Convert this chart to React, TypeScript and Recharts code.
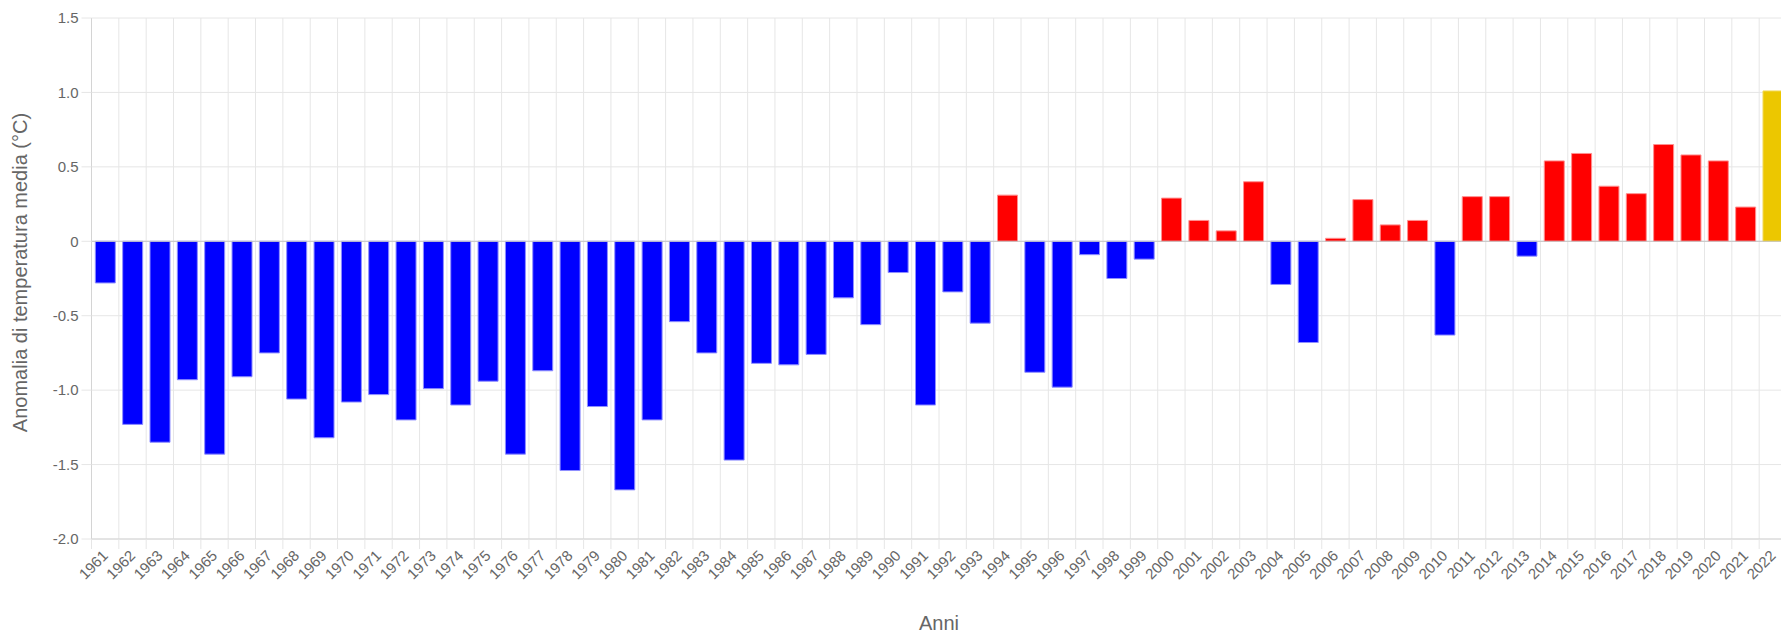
import React from 'react';
import {
  BarChart,
  Bar,
  Cell,
  XAxis,
  YAxis,
  CartesianGrid,
  ReferenceLine,
} from 'recharts';

const years = [
  '1961', '1962', '1963', '1964', '1965', '1966', '1967', '1968', '1969', '1970',
  '1971', '1972', '1973', '1974', '1975', '1976', '1977', '1978', '1979', '1980',
  '1981', '1982', '1983', '1984', '1985', '1986', '1987', '1988', '1989', '1990',
  '1991', '1992', '1993', '1994', '1995', '1996', '1997', '1998', '1999', '2000',
  '2001', '2002', '2003', '2004', '2005', '2006', '2007', '2008', '2009', '2010',
  '2011', '2012', '2013', '2014', '2015', '2016', '2017', '2018', '2019', '2020',
  '2021', '2022',
];

const anomalies = [
  -0.28, -1.23, -1.35, -0.93, -1.43, -0.91, -0.75, -1.06, -1.32, -1.08,
  -1.03, -1.2, -0.99, -1.1, -0.94, -1.43, -0.87, -1.54, -1.11, -1.67,
  -1.2, -0.54, -0.75, -1.47, -0.82, -0.83, -0.76, -0.38, -0.56, -0.21,
  -1.1, -0.34, -0.55, 0.31, -0.88, -0.98, -0.09, -0.25, -0.12, 0.29,
  0.14, 0.07, 0.4, -0.29, -0.68, 0.02, 0.28, 0.11, 0.14, -0.63,
  0.3, 0.3, -0.1, 0.54, 0.59, 0.37, 0.32, 0.65, 0.58, 0.54,
  0.23, 1.01,
];

const yTicks = [-2, -1.5, -1, -0.5, 0, 0.5, 1, 1.5];
const yTickLabels = ['-2.0', '-1.5', '-1.0', '-0.5', '0', '0.5', '1.0', '1.5'];

const highlightYear = '2022';

const data = years.map((y, i) => ({ anno: y, valore: anomalies[i] }));

const CHART_W = 1786.5;
const CHART_H = 635;
const Y_AXIS_W = 91.5;
const BAND = (CHART_W - Y_AXIS_W) / years.length;

const FONT = "'Liberation Sans', Arial, Helvetica, sans-serif";
const TEXT = '#666';
const GRID = '#e6e6e6';
const AXIS = '#d4d4d4';

const barColor = (year: string, v: number) => {
  if (year === highlightYear) return { fill: '#ecc700', stroke: '#f2da5c' };
  return v < 0 ? { fill: '#0000ff', stroke: '#8f8fff' } : { fill: '#ff0000', stroke: '#ff8f8f' };
};

const XTick = (props: any) => {
  const { x, y, payload } = props;
  const bx = x - BAND / 2;
  return (
    <g>
      <line x1={bx} y1={y - 14} x2={bx} y2={y - 4} stroke={GRID} />
      <text
        transform={`translate(${x},${y}) rotate(-45)`}
        textAnchor="end"
        dy="0.35em"
        fill={TEXT}
        fontSize={15}
        fontFamily={FONT}
      >
        {payload.value}
      </text>
    </g>
  );
};

const YTitle = (props: any) => {
  const vb = props.viewBox || { x: 0, y: 18, height: 521 };
  const cy = vb.y + vb.height / 2 - 6;
  return (
    <text
      transform={`translate(${vb.x + 27},${cy}) rotate(-90)`}
      textAnchor="middle"
      fill={TEXT}
      fontSize={20}
      fontFamily={FONT}
    >
      Anomalia di temperatura media (°C)
    </text>
  );
};

export default function App() {
  return (
    <div
      style={{
        position: 'absolute',
        left: 0,
        top: 0,
        width: 1781,
        height: CHART_H,
        overflow: 'hidden',
        background: '#fff',
      }}
    >
      <BarChart
        width={CHART_W}
        height={CHART_H}
        data={data}
        margin={{ top: 18, right: 0, left: 0, bottom: 0 }}
        barCategoryGap="14%"
      >
        <CartesianGrid
          stroke={GRID}
          verticalCoordinatesGenerator={({ offset }: any) =>
            Array.from({ length: years.length + 1 }, (_, i) => offset.left + i * (offset.width / years.length))
          }
        />
        <XAxis
          dataKey="anno"
          interval={0}
          height={96}
          tickSize={10}
          tickMargin={4}
          tickLine={false}
          axisLine={{ stroke: AXIS }}
          tick={<XTick />}
          label={{
            value: 'Anni',
            position: 'insideBottom',
            offset: 5,
            fill: TEXT,
            fontSize: 20,
            fontFamily: FONT,
          }}
        />
        <YAxis
          width={Y_AXIS_W}
          domain={[-2, 1.5]}
          ticks={yTicks}
          interval={0}
          tickSize={10}
          tickMargin={3}
          tickLine={{ stroke: GRID }}
          axisLine={{ stroke: AXIS }}
          tick={{ fill: TEXT, fontSize: 15, fontFamily: FONT }}
          tickFormatter={(v: number) => yTickLabels[yTicks.indexOf(v)] ?? String(v)}
          label={{ content: <YTitle /> }}
        />
        <ReferenceLine y={0} stroke="#c4c4c4" />
        <Bar dataKey="valore" isAnimationActive={false} strokeWidth={1}>
          {data.map((d) => {
            const c = barColor(d.anno, d.valore);
            return <Cell key={d.anno} fill={c.fill} stroke={c.stroke} />;
          })}
        </Bar>
      </BarChart>
    </div>
  );
}
